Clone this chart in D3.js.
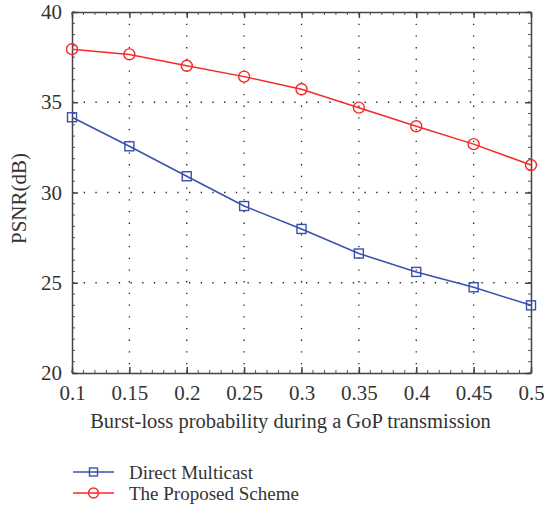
<!DOCTYPE html>
<meta charset="utf-8" />
<script src="https://d3js.org/d3.v7.min.js"></script>
<style>
    body { margin: 0; background: #fff; }
    text { font-family: 'Liberation Serif', 'DejaVu Serif', serif; fill: #333; }
</style>
<div id="my_dataviz"></div>
<script>
    // data
    const probs = [0.1, 0.15, 0.2, 0.25, 0.3, 0.35, 0.4, 0.45, 0.5]
    const directMulticast = [34.17, 32.56, 30.9, 29.25, 27.98, 26.62, 25.6, 24.75, 23.75]
    const proposedScheme = [37.94, 37.65, 37.02, 36.42, 35.72, 34.7, 33.67, 32.68, 31.52]
    const xTicks = [0.1, 0.15, 0.2, 0.25, 0.3, 0.35, 0.4, 0.45, 0.5]
    const yTicks = [20, 25, 30, 35, 40]
    const seriesNames = ['Direct Multicast', 'The Proposed Scheme']

    const margin = { top: 12, right: 13, bottom: 133, left: 72 },
        width = 544 - margin.left - margin.right,
        height = 506 - margin.top - margin.bottom

    const svg = d3
        .select('#my_dataviz')
        .append('svg')
        .attr('width', 544)
        .attr('height', 506)
        .append('g')
        .attr('transform', `translate(${margin.left},${margin.top})`)

    const x = d3.scaleLinear().domain([0.1, 0.5]).range([0, width])
    const y = d3.scaleLinear().domain([20, 40]).range([height, 0])

    // dotted grid
    svg.append('g')
        .selectAll('line')
        .data(xTicks.slice(1, -1))
        .join('line')
        .attr('x1', (d) => x(d))
        .attr('x2', (d) => x(d))
        .attr('y1', 0)
        .attr('y2', height)
    svg.append('g')
        .selectAll('line')
        .data(yTicks.slice(1, -1))
        .join('line')
        .attr('x1', 0)
        .attr('x2', width)
        .attr('y1', (d) => y(d))
        .attr('y2', (d) => y(d))
    svg.selectAll('line')
        .attr('stroke', '#222')
        .attr('stroke-width', 1.3)
        .attr('stroke-dasharray', '1.3,10.4')

    // minor ticks
    const xMinor = d3.range(0.1, 0.5001, 0.01)
    const yMinor = d3.range(20, 40.001, 0.625)
    const tickG = svg.append('g').attr('stroke', '#555').attr('stroke-width', 1)
    xMinor.forEach((v) => {
        tickG.append('line').attr('x1', x(v)).attr('x2', x(v)).attr('y1', height).attr('y2', height - 3)
        tickG.append('line').attr('x1', x(v)).attr('x2', x(v)).attr('y1', 0).attr('y2', 3)
    })
    yMinor.forEach((v) => {
        tickG.append('line').attr('x1', 0).attr('x2', 3).attr('y1', y(v)).attr('y2', y(v))
        tickG.append('line').attr('x1', width).attr('x2', width - 3).attr('y1', y(v)).attr('y2', y(v))
    })

    // axes
    svg.append('g')
        .attr('transform', `translate(0,${height})`)
        .call(d3.axisBottom(x).tickValues(xTicks).tickFormat(d3.format('')).tickSizeInner(-6).tickSizeOuter(0).tickPadding(12))
    svg.append('g')
        .call(d3.axisLeft(y).tickValues(yTicks).tickSizeInner(-6).tickSizeOuter(0).tickPadding(10))
    svg.append('g')
        .call(d3.axisTop(x).tickValues(xTicks).tickFormat('').tickSizeInner(-6).tickSizeOuter(0))
    svg.append('g')
        .attr('transform', `translate(${width},0)`)
        .call(d3.axisRight(y).tickValues(yTicks).tickFormat('').tickSizeInner(-6).tickSizeOuter(0))
    svg.selectAll('.domain').attr('stroke', '#444').attr('stroke-width', 1.5)
    svg.selectAll('.tick line').attr('stroke', '#444').attr('stroke-width', 1.5)
    svg.selectAll('.tick text')
        .style('font-size', '21px')
        .attr('fill', '#333')

    // axis labels
    svg.append('text')
        .attr('x', width / 2 - 11)
        .attr('y', height + 55)
        .attr('text-anchor', 'middle')
        .style('font-size', '20.5px')
        .text('Burst-loss probability during a GoP transmission')
    svg.append('text')
        .attr('transform', `translate(-46,${height / 2 + 6}) rotate(-90)`)
        .attr('text-anchor', 'middle')
        .style('font-size', '21px')
        .text('PSNR(dB)')

    // lines
    const series = [
        { name: seriesNames[0], values: directMulticast, color: '#3a50ad', shape: 'square' },
        { name: seriesNames[1], values: proposedScheme, color: '#f52a2a', shape: 'circle' },
    ]
    const line = d3.line().x((d, i) => x(probs[i])).y((d) => y(d))

    function drawMarker(g, s, cx, cy) {
        if (s.shape === 'square') {
            g.append('rect')
                .attr('x', cx - 4.5).attr('y', cy - 4.5)
                .attr('width', 9).attr('height', 9)
                .attr('fill', 'none').attr('stroke', s.color).attr('stroke-width', 1.4)
        } else {
            g.append('circle')
                .attr('cx', cx).attr('cy', cy).attr('r', 5.5)
                .attr('fill', 'none').attr('stroke', s.color).attr('stroke-width', 1.4)
        }
    }

    series.forEach((s) => {
        svg.append('path')
            .datum(s.values)
            .attr('fill', 'none')
            .attr('stroke', s.color)
            .attr('stroke-width', 1.5)
            .attr('d', line)
        const g = svg.append('g')
        s.values.forEach((v, i) => drawMarker(g, s, x(probs[i]), y(v)))
    })

    // legend
    const legend = svg.append('g').attr('transform', `translate(1,${height + 99})`)
    series.forEach((s, i) => {
        const ly = i * 21
        legend.append('line')
            .attr('x1', 0).attr('x2', 41).attr('y1', ly).attr('y2', ly)
            .attr('stroke', s.color).attr('stroke-width', 1.5)
        const mg = legend.append('g')
        if (s.shape === 'square') {
            mg.append('rect').attr('x', 16.5).attr('y', ly - 4).attr('width', 8).attr('height', 8)
                .attr('fill', 'none').attr('stroke', s.color).attr('stroke-width', 1.4)
        } else {
            mg.append('circle').attr('cx', 20.5).attr('cy', ly).attr('r', 5)
                .attr('fill', 'none').attr('stroke', s.color).attr('stroke-width', 1.4)
        }
        legend.append('text')
            .attr('x', 56)
            .attr('y', ly + 7)
            .style('font-size', '19px')
            .text(s.name)
    })
</script>
